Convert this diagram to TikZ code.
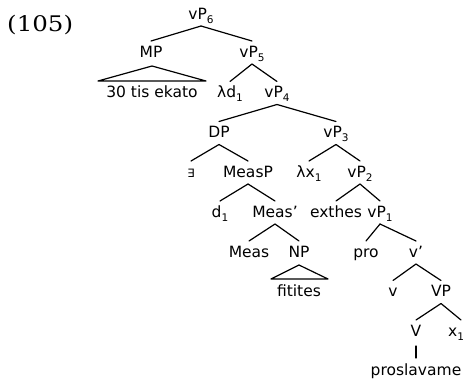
\documentclass[tikz,border=0pt]{standalone}
\usepackage{fontspec}
\setmainfont{DejaVu Sans}
\newfontfamily\labelfont{DejaVu Serif}
\usetikzlibrary{calc}
\newcommand{\subsc}[1]{\raisebox{-0.28em}{\fontsize{10.5}{10.5}\selectfont #1}}
\newcommand{\treeedge}[2]{\draw[ln] ($(#1.base)+(0,7)$) -- ($(#2.base)+(0,-16)$);}
\tikzset{
  lab/.style={anchor=base, inner sep=0pt, font=\fontsize{15.5}{15.5}\selectfont},
  ln/.style={line width=1.2pt, line cap=round, line join=round},
}
\begin{document}
\begin{tikzpicture}[x=1pt,y=-1pt]
\useasboundingbox (0,0) rectangle (470,383);
\node[anchor=base west, inner sep=0pt, font=\labelfont\fontsize{21.5}{21.5}\selectfont] (ex) at (7,31) {\scalebox{1.14}[1]{(105)}};
% nodes
\node[lab] (vP6) at (201,19) {vP\subsc{6}};
\node[lab] (MP) at (151,57) {MP};
\node[lab] (vP5) at (252,57) {vP\subsc{5}};
\node[lab] (ekato) at (152,97.5) {30 tis ekato};
\node[lab] (ld) at (230,97.5) {λd\subsc{1}};
\node[lab] (vP4) at (277,97.5) {vP\subsc{4}};
\node[lab] (DP) at (219,137.5) {DP};
\node[lab] (vP3) at (336,137.5) {vP\subsc{3}};
\node[lab, font=\fontsize{11.5}{11.5}\selectfont] (E) at (191,177) {∃};
\node[lab] (MeasP) at (248,177) {MeasP};
\node[lab] (lx) at (309,177) {λx\subsc{1}};
\node[lab] (vP2) at (360,177) {vP\subsc{2}};
\node[lab] (d1) at (220,217) {d\subsc{1}};
\node[lab] (Measb) at (275,217) {Meas\symbol{39}};
\node[lab] (exthes) at (336,217) {exthes};
\node[lab] (vP1) at (380,217) {vP\subsc{1}};
\node[lab] (Meas) at (249,257) {Meas};
\node[lab] (NP) at (299,257) {NP};
\node[lab] (pro) at (366,257) {pro};
\node[lab] (vbar) at (416,257) {v\symbol{39}};
\node[lab] (fitites) at (299,296.5) {fitites};
\node[lab] (v) at (393,296.5) {v};
\node[lab] (VP) at (441,296.5) {VP};
\node[lab] (V) at (416,336) {V};
\node[lab] (x1) at (456,336) {x\subsc{1}};
\node[lab] (prosl) at (416,375) {proslavame};
% edges
\treeedge{vP6}{MP}
\treeedge{vP6}{vP5}
\treeedge{vP5}{ld}
\treeedge{vP5}{vP4}
\treeedge{vP4}{DP}
\treeedge{vP4}{vP3}
\treeedge{DP}{E}
\treeedge{DP}{MeasP}
\treeedge{vP3}{lx}
\treeedge{vP3}{vP2}
\treeedge{MeasP}{d1}
\treeedge{MeasP}{Measb}
\treeedge{vP2}{exthes}
\treeedge{vP2}{vP1}
\treeedge{Measb}{Meas}
\treeedge{Measb}{NP}
\treeedge{vP1}{pro}
\treeedge{vP1}{vbar}
\treeedge{vbar}{v}
\treeedge{vbar}{VP}
\treeedge{VP}{V}
\draw[ln] ($(VP.base)+(0,7)$) -- ($(x1.base)+(5,-16)$);
\draw[ln] ($(V.base)+(0,10)$) -- ($(prosl.base)+(0,-17)$);
% triangles
\draw[ln] ($(MP.base)+(1,9)$) -- ($(ekato.base)+(54,-16.5)$) -- ($(ekato.base)+(-54,-16.5)$) -- cycle;
\draw[ln] ($(NP.base)+(0,8)$) -- ($(fitites.base)+(29,-17.5)$) -- ($(fitites.base)+(-28,-17.5)$) -- cycle;
\end{tikzpicture}
\end{document}
